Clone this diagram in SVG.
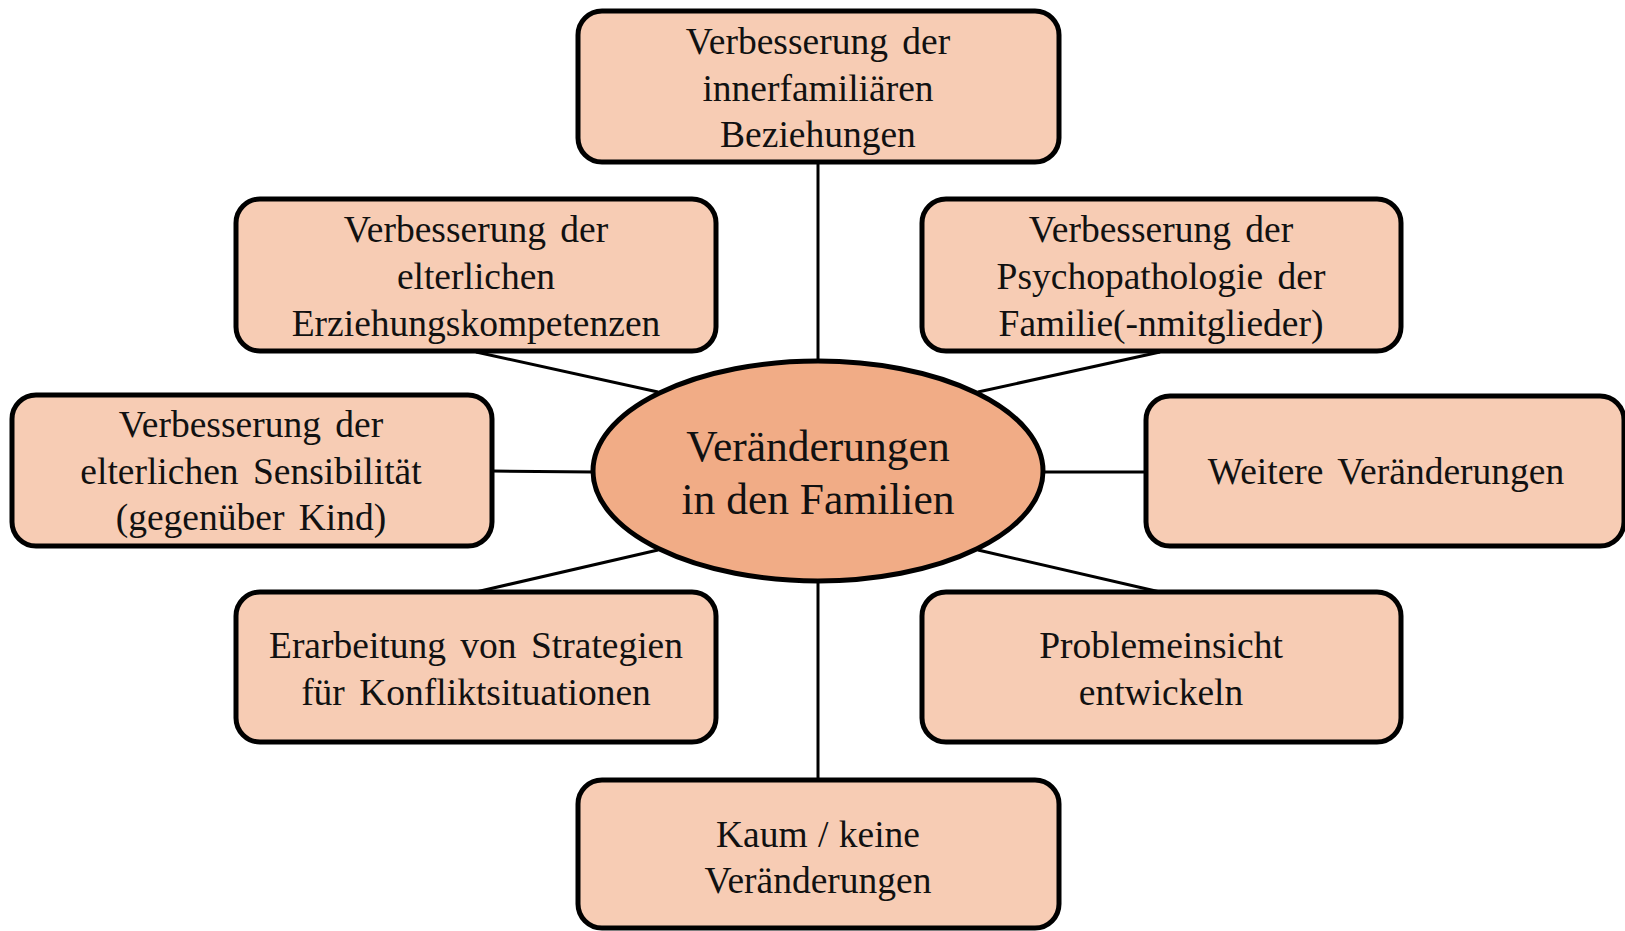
<svg xmlns="http://www.w3.org/2000/svg" width="1625" height="931" viewBox="0 0 1625 931">
<style>
.box{fill:#F7CCB4;stroke:#000;stroke-width:5}
.hub{fill:#F1AC86;stroke:#000;stroke-width:5}
.t{font-family:"Liberation Serif","Times New Roman",serif;font-size:37.5px;word-spacing:5px;fill:#111;text-anchor:middle}
.tc{font-family:"Liberation Serif","Times New Roman",serif;font-size:43.5px;fill:#111;text-anchor:middle}
.c{stroke:#000;stroke-width:3;fill:none}
</style>
<rect width="1625" height="931" fill="#fff"/>
<g id="connectors">
<line class="c" x1="818" y1="162" x2="818" y2="362"/>
<line class="c" x1="818" y1="581" x2="818" y2="780"/>
<line class="c" x1="476" y1="352" x2="658" y2="392"/>
<line class="c" x1="1160" y1="352" x2="978" y2="392"/>
<line class="c" x1="476" y1="592" x2="658" y2="550"/>
<line class="c" x1="1160" y1="592" x2="978" y2="550"/>
<line class="c" x1="492" y1="471" x2="594" y2="472"/>
<line class="c" x1="1042" y1="472" x2="1146" y2="472"/>
</g>
<g id="n-top">
<rect class="box" x="578" y="11" width="481" height="151" rx="24"/>
<text class="t" x="818" y="54">Verbesserung der</text>
<text class="t" x="818" y="101">innerfamiliären</text>
<text class="t" x="818" y="147">Beziehungen</text>
</g>
<g id="n-upper-left">
<rect class="box" x="236" y="199" width="480" height="152" rx="24"/>
<text class="t" x="476" y="242">Verbesserung der</text>
<text class="t" x="476" y="289">elterlichen</text>
<text class="t" x="476" y="336">Erziehungskompetenzen</text>
</g>
<g id="n-upper-right">
<rect class="box" x="922" y="199" width="479" height="152" rx="24"/>
<text class="t" x="1161" y="242">Verbesserung der</text>
<text class="t" x="1161" y="289">Psychopathologie der</text>
<text class="t" x="1161" y="336">Familie(-nmitglieder)</text>
</g>
<g id="n-left">
<rect class="box" x="12" y="395" width="480" height="151" rx="24"/>
<text class="t" x="251" y="437">Verbesserung der</text>
<text class="t" x="251" y="484">elterlichen Sensibilität</text>
<text class="t" x="251" y="530">(gegenüber Kind)</text>
</g>
<g id="n-right">
<rect class="box" x="1146" y="396" width="478" height="150" rx="24"/>
<text class="t" x="1386" y="484">Weitere Veränderungen</text>
</g>
<g id="n-lower-left">
<rect class="box" x="236" y="592" width="480" height="150" rx="24"/>
<text class="t" x="476" y="658">Erarbeitung von Strategien</text>
<text class="t" x="476" y="705">für Konfliktsituationen</text>
</g>
<g id="n-lower-right">
<rect class="box" x="922" y="592" width="479" height="150" rx="24"/>
<text class="t" x="1161" y="658">Problemeinsicht</text>
<text class="t" x="1161" y="705">entwickeln</text>
</g>
<g id="n-bottom">
<rect class="box" x="578" y="780" width="481" height="148" rx="24"/>
<text class="t" x="818" y="847" style="word-spacing:1px">Kaum / keine</text>
<text class="t" x="818" y="893">Veränderungen</text>
</g>
<g id="n-center">
<ellipse class="hub" cx="818" cy="471" rx="225" ry="110"/>
<text class="tc" x="818" y="461">Veränderungen</text>
<text class="tc" x="818" y="514">in den Familien</text>
</g>
</svg>
